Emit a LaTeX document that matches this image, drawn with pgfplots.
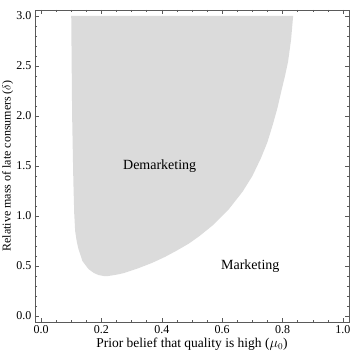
\documentclass[border=0pt]{standalone}
\usepackage{fontspec}
\setmainfont{Liberation Serif}
\usepackage{pgfplots}
\pgfplotsset{compat=1.18}
\definecolor{regiongray}{RGB}{219,219,219}
\definecolor{framegray}{RGB}{90,90,90}
\begin{document}
\begin{tikzpicture}
\path[use as bounding box] (-35pt,-40pt) rectangle (316pt,322pt);
\begin{axis}[
  at={(0pt,0pt)}, anchor=south west,
  scale only axis, width=314pt, height=312pt,
  xmin=-0.02, xmax=1.02, ymin=-0.06, ymax=3.06,
  xtick={0,0.2,...,1.0}, ytick={0,0.5,...,3.0},
  minor x tick num=3, minor y tick num=4,
  tick align=inside, major tick length=4pt, minor tick length=2pt,
  every tick/.style={framegray, line width=0.5pt},
  axis line style={framegray, line width=0.6pt},
  /pgf/number format/assume math mode=true,
  /pgf/number format/.cd, fixed, fixed zerofill, precision=1, /pgfplots/.cd,
  ticklabel style={font=\fontsize{12}{14}\selectfont},
  xlabel={Prior belief that quality is high ($\mu_0$)},
  ylabel={Relative mass of late consumers ($\delta$)},
  xlabel style={font=\fontsize{13.5}{15}\selectfont, yshift=3pt},
  ylabel style={font=\fontsize{12}{14}\selectfont, yshift=-3.5pt},
  axis on top,
]
\addplot[fill=regiongray, draw=none] coordinates {
(0.100,3.00) (0.103,2.00) (0.107,1.35) (0.110,1.02) (0.113,0.85) (0.118,0.75)
(0.123,0.68) (0.137,0.55) (0.157,0.47) (0.175,0.43) (0.190,0.41) (0.207,0.40)
(0.223,0.40) (0.250,0.413) (0.273,0.428) (0.320,0.475) (0.367,0.53) (0.410,0.59)
(0.450,0.655) (0.490,0.725) (0.525,0.80) (0.568,0.905) (0.620,1.06) (0.668,1.245)
(0.700,1.40) (0.729,1.583) (0.750,1.74) (0.768,1.917) (0.783,2.08) (0.796,2.25)
(0.808,2.40) (0.818,2.54) (0.828,2.76) (0.835,3.00)
} -- cycle;
\node[font=\fontsize{14}{16}\selectfont] at (axis cs:0.393,1.5) {Demarketing};
\node[font=\fontsize{14}{16}\selectfont] at (axis cs:0.693,0.5) {Marketing};
\end{axis}
\end{tikzpicture}
\end{document}
